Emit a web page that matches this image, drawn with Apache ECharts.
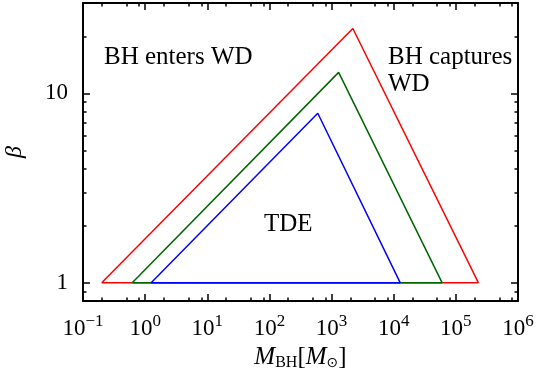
<!DOCTYPE html>
<html lang="en">
<head>
    <meta charset="UTF-8">
    <title>BH - WD regions</title>
    <script src="https://cdn.jsdelivr.net/npm/echarts/dist/echarts.min.js"></script>
    <style>
        body { margin: 0; padding: 0; background: #fff; }
        #chart { width: 536px; height: 375px; }
    </style>
</head>
<body>
    <div id="chart"></div>
    <script>
        // triangle outlines, raw values (M_BH in solar masses, beta)
        const redMass = [0.2, 2200, 2.3e5, 0.2];
        const redBeta = [1, 22, 1, 1];
        const greenMass = [0.62, 1300, 6.0e4, 0.62];
        const greenBeta = [1, 12.9, 1, 1];
        const blueMass = [1.25, 600, 1.27e4, 1.25];
        const blueBeta = [1, 7.85, 1, 1];

        // axis ranges and ticks
        const xMin = 0.1, xMax = 1e6;
        const yMin = 0.8, yMax = 30;
        const xMajor = [0.1, 1, 10, 100, 1e3, 1e4, 1e5, 1e6];
        const xMinor = [0.2, 0.5, 0.8, 2, 5, 8, 20, 50, 80, 200, 500, 800,
            2e3, 5e3, 8e3, 2e4, 5e4, 8e4, 2e5, 5e5, 8e5];
        const yMajor = [1, 10];
        const yMinor = [0.8, 0.9, 2, 3, 4, 5, 6, 7, 8, 9, 20, 30];

        const lg = v => Math.log10(v);
        const pts = (xs, ys) => xs.map((x, i) => [lg(x), lg(ys[i])]);

        const serif = '"Liberation Serif", "DejaVu Serif", serif';
        const axisColor = '#000';

        function xAxisDef(position, ticks, len, showLine, showLabel) {
            return {
                type: 'value', position: position,
                min: lg(xMin), max: lg(xMax),
                axisLine: { show: showLine, onZero: false, lineStyle: { color: axisColor, width: 2 } },
                axisTick: { show: true, inside: true, length: len, customValues: ticks.map(lg),
                    lineStyle: { color: axisColor, width: 1.5 } },
                axisLabel: { show: showLabel, customValues: xMajor.map(lg), margin: 12,
                    formatter: v => {
                        const e = Math.round(v);
                        return '{b|10}{s|' + (e < 0 ? '\u2212' + (-e) : e) + '}';
                    },
                    rich: {
                        b: { fontFamily: serif, fontSize: 23, color: '#000' },
                        s: { fontFamily: serif, fontSize: 17, color: '#000', padding: [0, 0, 15, 0] }
                    }
                },
                splitLine: { show: false }
            };
        }

        function yAxisDef(position, ticks, len, showLine, showLabel) {
            return {
                type: 'value', position: position,
                min: lg(yMin), max: lg(yMax),
                axisLine: { show: showLine, onZero: false, lineStyle: { color: axisColor, width: 2 } },
                axisTick: { show: true, inside: true, length: len, customValues: ticks.map(lg),
                    lineStyle: { color: axisColor, width: 1.5 } },
                axisLabel: { show: showLabel, customValues: yMajor.map(lg), margin: 15,
                    formatter: v => String(Math.round(Math.pow(10, v))),
                    fontFamily: serif, fontSize: 23, color: '#000' },
                splitLine: { show: false }
            };
        }

        const xAxes = [
            xAxisDef('bottom', xMajor, 7, true, true),
            xAxisDef('bottom', xMinor, 3.5, false, false),
            xAxisDef('top', xMajor, 7, true, false),
            xAxisDef('top', xMinor, 3.5, false, false)
        ];
        xAxes[0].name = '{i|M}{sub|BH}{n|[}{i|M}{sub2|\u2299}{n|]}';
        xAxes[0].nameLocation = 'middle';
        xAxes[0].nameGap = 43;
        xAxes[0].nameTextStyle = {
            rich: {
                i: { fontFamily: serif, fontStyle: 'italic', fontSize: 25, color: '#000' },
                n: { fontFamily: serif, fontSize: 25, color: '#000' },
                sub: { fontFamily: serif, fontSize: 16, color: '#000', padding: [10, 0, 0, 0] },
                sub2: { fontFamily: 'DejaVu Sans', fontSize: 14, color: '#000', padding: [10, 0, 0, 0] }
            }
        };

        const yAxes = [
            yAxisDef('left', yMajor, 7, true, true),
            yAxisDef('left', yMinor, 3.5, false, false),
            yAxisDef('right', yMajor, 7, true, false),
            yAxisDef('right', yMinor, 3.5, false, false)
        ];
        yAxes[0].name = '\u03b2';
        yAxes[0].nameLocation = 'middle';
        yAxes[0].nameRotate = 90;
        yAxes[0].nameGap = 56;
        yAxes[0].nameTextStyle = { fontFamily: serif, fontStyle: 'italic', fontSize: 24, color: '#000' };

        function tri(name, color, xs, ys) {
            return {
                name: name, type: 'line', xAxisIndex: 0, yAxisIndex: 0,
                data: pts(xs, ys), showSymbol: false, symbol: 'none',
                lineStyle: { color: color, width: 1.5 }, animation: false, silent: true
            };
        }

        const chart = echarts.init(document.getElementById('chart'));
        chart.setOption({
            animation: false,
            grid: { left: 83, right: 18, top: 3, bottom: 74, containLabel: false, outerBoundsMode: 'none' },
            xAxis: xAxes,
            yAxis: yAxes,
            series: [
                tri('red', '#ff0000', redMass, redBeta),
                tri('green', '#006400', greenMass, greenBeta),
                tri('blue', '#0000ff', blueMass, blueBeta)
            ],
            graphic: [
                { type: 'text', left: 104, top: 45, style: { text: 'BH enters WD', font: '25px ' + serif, fill: '#000' } },
                { type: 'text', left: 388, top: 44, style: { text: 'BH captures\nWD', font: '25px ' + serif, fill: '#000', lineHeight: 27 } },
                { type: 'text', left: 264, top: 212, style: { text: 'TDE', font: '25px ' + serif, fill: '#000' } }
            ]
        });
    </script>
</body>
</html>
